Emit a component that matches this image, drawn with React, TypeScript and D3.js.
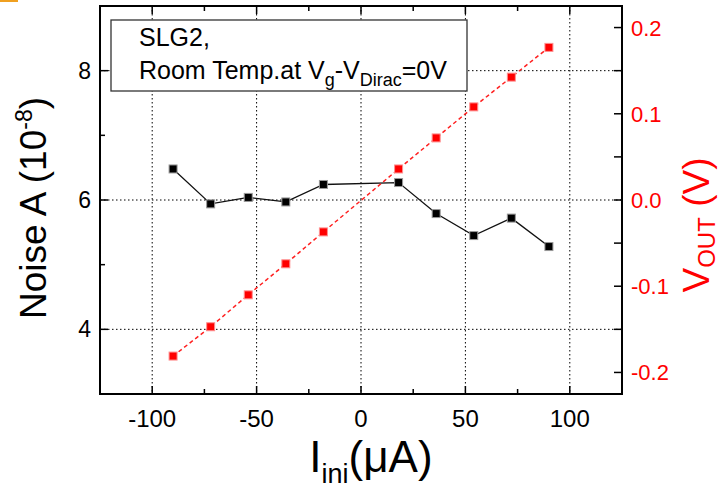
import React from "react";
import * as d3 from "d3";

const currents = [-90, -72, -54, -36, -18, 18, 36, 54, 72, 90];
const noiseA = [6.48, 5.94, 6.04, 5.97, 6.24, 6.27, 5.79, 5.45, 5.72, 5.28];
const vOut = [-0.181, -0.147, -0.110, -0.074, -0.037, 0.036, 0.072, 0.108, 0.1425, 0.177];

const xMajor = [-100, -50, 0, 50, 100];
const xMinor = [-75, -25, 25, 75];
const yLMajor = [4, 6, 8];
const yLMinor = [5, 7];
const yRMajor = [-0.2, -0.1, 0.0, 0.1, 0.2];
const yRMinor = [-0.15, -0.05, 0.05, 0.15];

const W = 723, H = 491;
const L = 100, R = 622, T = 6, B = 394;
const FONT = "'Liberation Sans', Arial, Helvetica, sans-serif";

const hy = (s: string) => s.replace("\u2212", "-");

export default function App() {
  const x = d3.scaleLinear().domain([-125, 125]).range([L, R]);
  const yL = d3.scaleLinear().domain([3, 9]).range([B, T]);
  const yR = d3.scaleLinear().domain([-0.225, 0.225]).range([B, T]);

  const blackPts = currents.map((c, i) => [x(c), yL(noiseA[i])] as [number, number]);
  const redPts = currents.map((c, i) => [x(c), yR(vOut[i])] as [number, number]);
  const line = d3.line();

  const MAJ = 8, MIN = 5;
  const ms = 8;

  return (
    <svg width={W} height={H} style={{ position: "absolute", left: 0, top: 0, background: "#fff" }} fontFamily={FONT}>
      <rect x={0} y={0} width={W} height={H} fill="#fff" />
      <rect x={0} y={0} width={18} height={2} fill="#f0a020" />
      {/* grid */}
      <g stroke="#000" strokeWidth={1} strokeDasharray="1.5,2.5">
        {xMajor.map((v) => (
          <line key={"gx" + v} x1={x(v)} x2={x(v)} y1={T} y2={B} />
        ))}
        {yLMajor.map((v) => (
          <line key={"gy" + v} x1={L} x2={R} y1={yL(v)} y2={yL(v)} />
        ))}
      </g>
      {/* legend box */}
      <rect x={111} y={20} width={356} height={71} fill="#fff" stroke="#333" strokeWidth={1.3} />
      <text x={139} y={46} fontSize={25} fill="#000">SLG2,</text>
      <text x={139} y={79} fontSize={25} fill="#000">
        Room Temp.at V<tspan fontSize={18} dy={7}>g</tspan>
        <tspan dy={-7}>-V</tspan>
        <tspan fontSize={18} dy={7}>Dirac</tspan>
        <tspan dy={-7}>=0V</tspan>
      </text>
      {/* series lines */}
      <path d={line(blackPts) || ""} fill="none" stroke="#111" strokeWidth={1.3} />
      <path d={line(redPts) || ""} fill="none" stroke="#ff2020" strokeWidth={1.5} strokeDasharray="4,3" />
      {blackPts.map((p, i) => (
        <rect key={"b" + i} x={p[0] - ms / 2} y={p[1] - ms / 2} width={ms} height={ms} fill="#000" stroke="#999" strokeWidth={1} />
      ))}
      {redPts.map((p, i) => (
        <rect key={"r" + i} x={p[0] - ms / 2} y={p[1] - ms / 2} width={ms} height={ms} fill="#ff0000" stroke="#ff9090" strokeWidth={1} />
      ))}
      {/* ticks */}
      <g stroke="#000" strokeWidth={1.5}>
        {xMajor.map((v) => (
          <g key={"tx" + v}>
            <line x1={x(v)} x2={x(v)} y1={B} y2={B - MAJ} />
            <line x1={x(v)} x2={x(v)} y1={T} y2={T + MAJ} />
          </g>
        ))}
        {xMinor.map((v) => (
          <g key={"tmx" + v}>
            <line x1={x(v)} x2={x(v)} y1={B} y2={B - MIN} />
            <line x1={x(v)} x2={x(v)} y1={T} y2={T + MIN} />
          </g>
        ))}
        {yLMajor.map((v) => (
          <line key={"tl" + v} x1={L} x2={L + MAJ} y1={yL(v)} y2={yL(v)} />
        ))}
        {yLMinor.map((v) => (
          <line key={"tml" + v} x1={L} x2={L + MIN} y1={yL(v)} y2={yL(v)} />
        ))}
        {yRMajor.map((v) => (
          <line key={"tr" + v} x1={R} x2={R - MAJ} y1={yR(v)} y2={yR(v)} />
        ))}
        {yRMinor.map((v) => (
          <line key={"tmr" + v} x1={R} x2={R - MAJ} y1={yR(v)} y2={yR(v)} />
        ))}
      </g>
      {/* frame */}
      <rect x={L} y={T} width={R - L} height={B - T} fill="none" stroke="#000" strokeWidth={2} />
      {/* tick labels */}
      {xMajor.map((v) => (
        <text key={"lx" + v} x={x(v)} y={427} fontSize={24} textAnchor="middle" fill="#000">{hy(d3.format("d")(v))}</text>
      ))}
      {yLMajor.map((v) => (
        <text key={"ll" + v} x={91} y={yL(v) + 8} fontSize={23} textAnchor="end" fill="#000">{v}</text>
      ))}
      {yRMajor.map((v) => (
        <text key={"lr" + v} x={631} y={yR(v) + 8} fontSize={22} textAnchor="start" fill="#ff0000">{hy(d3.format(".1f")(v))}</text>
      ))}
      {/* axis titles */}
      <text transform="translate(46,208) rotate(-90)" fontSize={37} textAnchor="middle" fill="#000">
        Noise A (10<tspan fontSize={23} dy={-14}>-8</tspan><tspan dy={14}>)</tspan>
      </text>
      <text transform="translate(709,225) rotate(-90)" fontSize={37} textAnchor="middle" fill="#ff0000">
        V<tspan fontSize={24} dy={6}>OUT</tspan><tspan dy={-6}> (V)</tspan>
      </text>
      <text x={371} y={472} fontSize={44} textAnchor="middle" fill="#000">
        I<tspan fontSize={27} dy={11}>ini</tspan><tspan dy={-11}>(μA)</tspan>
      </text>
    </svg>
  );
}
